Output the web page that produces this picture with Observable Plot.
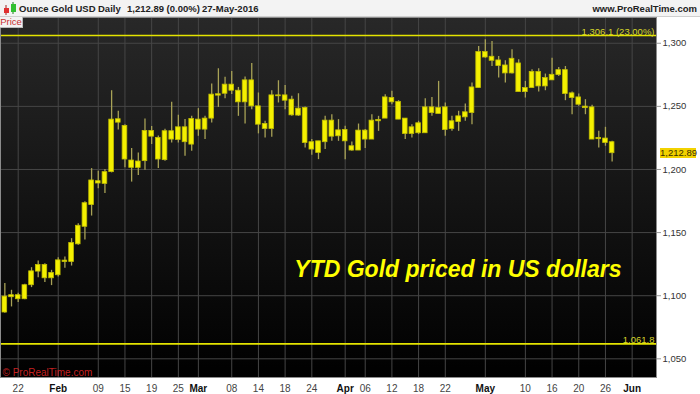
<!DOCTYPE html>
<html><head><meta charset="utf-8">
<script src="https://cdn.jsdelivr.net/npm/d3@7"></script>
<script src="https://cdn.jsdelivr.net/npm/@observablehq/plot@0.6"></script>
<style>
body{margin:0;background:#fff;font-family:"Liberation Sans",Arial,sans-serif;}
#wrap{position:relative;width:700px;height:394px;overflow:hidden;background:#fff;}
#hdr{position:absolute;left:0;top:0;width:700px;height:17px;background:#f3f3f3;border-bottom:1px solid #cfcfcf;box-sizing:border-box;font-weight:bold;font-size:9.5px;color:#222;}
#hdr span{position:absolute;top:3px;white-space:nowrap;}
#chart{position:absolute;left:0;top:17px;}
#pricebox{position:absolute;left:0;top:17px;width:22px;height:10px;background:#f2f2f2;border-right:1px solid #bbb;border-bottom:1px solid #bbb;color:#c83030;font-size:9.5px;line-height:10px;text-align:center;}
#tag{position:absolute;left:660px;width:36px;height:10px;background:#f2d200;color:#3a3000;font-size:9.5px;line-height:10px;text-align:center;}
</style></head>
<body>
<div id="wrap">
  <div id="hdr">
    <svg style="position:absolute;left:2px;top:2px" width="15" height="13">
      <line x1="4" y1="3" x2="4" y2="13" stroke="#a02020"/><rect x="2" y="6" width="5" height="5" fill="#e03030"/>
      <line x1="11" y1="0" x2="11" y2="12" stroke="#208020"/><rect x="9" y="2" width="5" height="8" fill="#30c030"/>
    </svg>
    <span style="left:19px">Ounce Gold USD</span>
    <span style="left:98px">Daily</span>
    <span style="left:127px">1,212.89 (0.00%)</span>
    <span style="left:202px">27-May-2016</span>
    <span style="right:3px">www.ProRealTime.com</span>
  </div>
  <div id="chart"></div>
  <div id="pricebox">Price</div>
  <div id="tag">1,212.89</div>
</div>
<script>
// ---- data ----
const dates = [
"2016-01-20","2016-01-21","2016-01-22","2016-01-25","2016-01-26","2016-01-27","2016-01-28","2016-01-29",
"2016-02-01","2016-02-02","2016-02-03","2016-02-04","2016-02-05","2016-02-08","2016-02-09","2016-02-10","2016-02-11","2016-02-12",
"2016-02-15","2016-02-16","2016-02-17","2016-02-18","2016-02-19","2016-02-22","2016-02-23","2016-02-24","2016-02-25","2016-02-26","2016-02-29",
"2016-03-01","2016-03-02","2016-03-03","2016-03-04","2016-03-07","2016-03-08","2016-03-09","2016-03-10","2016-03-11",
"2016-03-14","2016-03-15","2016-03-16","2016-03-17","2016-03-18","2016-03-21","2016-03-22","2016-03-23","2016-03-24",
"2016-03-28","2016-03-29","2016-03-30","2016-03-31",
"2016-04-01","2016-04-04","2016-04-05","2016-04-06","2016-04-07","2016-04-08","2016-04-11","2016-04-12","2016-04-13","2016-04-14","2016-04-15",
"2016-04-18","2016-04-19","2016-04-20","2016-04-21","2016-04-22","2016-04-25","2016-04-26","2016-04-27","2016-04-28","2016-04-29",
"2016-05-02","2016-05-03","2016-05-04","2016-05-05","2016-05-06","2016-05-09","2016-05-10","2016-05-11","2016-05-12","2016-05-13",
"2016-05-16","2016-05-17","2016-05-18","2016-05-19","2016-05-20","2016-05-23","2016-05-24","2016-05-25","2016-05-26","2016-05-27"];
const futureDays = ["2016-05-30","2016-05-31","2016-06-01","2016-06-02","2016-06-03","2016-06-06"];

const opens = [
1086.7,1100.4,1100.4,1097.2,1108.3,1119.1,1124.3,1113.8,1116.2,1127.8,
1126.7,1140.7,1154.6,1171.8,1190.7,1188.6,1197.9,1239.8,1234.5,1207.1,
1201.3,1206.6,1230.5,1225.0,1207.4,1230.3,1223.4,1233.4,1219.7,1239.5,
1231.6,1240.3,1259.6,1260.0,1267.2,1262.4,1253.2,1270.6,1250.0,1236.1,
1232.1,1258.0,1258.7,1255.3,1242.7,1248.7,1221.6,1213.1,1221.6,1238.7,
1226.3,1231.3,1218.4,1215.0,1230.8,1223.7,1239.2,1240.3,1253.2,1253.4,
1240.3,1228.1,1228.7,1228.7,1249.2,1244.0,1249.2,1232.1,1237.6,1241.3,
1244.7,1264.5,1288.7,1289.3,1286.4,1282.4,1276.1,1284.0,1261.3,1264.5,
1277.2,1265.8,1270.6,1274.8,1278.7,1260.3,1257.1,1249.8,1249.2,1225.0,
1224.5,1221.6];
const highs = [
1109.6,1104.3,1101.9,1109.0,1122.2,1127.5,1125.4,1120.1,1130.1,1130.7,
1145.2,1157.0,1174.4,1200.7,1198.6,1200.0,1262.4,1246.1,1235.5,1216.6,
1213.1,1240.0,1234.0,1226.6,1231.9,1253.2,1242.9,1239.5,1242.1,1248.2,
1242.1,1267.7,1279.8,1273.0,1277.7,1265.0,1273.2,1284.0,1260.6,1238.2,
1262.4,1270.3,1266.6,1258.0,1260.0,1249.5,1223.7,1222.3,1242.1,1243.4,
1239.5,1234.2,1221.8,1236.0,1231.6,1243.4,1242.1,1259.2,1261.9,1254.5,
1240.3,1235.5,1238.2,1256.1,1257.1,1269.8,1252.7,1242.1,1246.1,1251.9,
1268.5,1297.4,1302.7,1301.4,1289.5,1286.1,1294.8,1286.9,1269.8,1279.0,
1279.8,1275.6,1288.2,1280.8,1281.6,1261.3,1259.8,1255.3,1250.8,1230.2,
1233.4,1222.3];
const lows = [
1086.1,1091.1,1094.6,1096.7,1106.4,1114.3,1110.4,1108.0,1114.8,1121.7,
1123.5,1139.9,1144.1,1163.1,1184.7,1181.0,1197.3,1231.3,1201.3,1190.0,
1195.2,1199.4,1219.7,1200.8,1206.6,1221.0,1221.0,1210.5,1214.5,1226.3,
1223.7,1236.9,1249.2,1256.1,1259.3,1242.1,1236.1,1247.4,1228.2,1225.0,
1225.5,1252.7,1247.4,1242.1,1242.1,1217.0,1211.3,1207.8,1215.8,1222.3,
1222.3,1207.8,1214.4,1215.0,1216.6,1223.7,1230.2,1240.3,1251.3,1239.5,
1223.7,1225.0,1227.6,1228.7,1242.1,1244.0,1226.3,1230.2,1230.2,1238.2,
1235.5,1264.5,1288.2,1281.6,1272.4,1268.5,1275.6,1261.3,1256.6,1264.5,
1261.3,1262.4,1270.6,1273.7,1254.5,1243.4,1250.0,1243.4,1223.7,1217.1,
1218.4,1206.0];
const closes = [
1099.3,1098.8,1097.2,1108.3,1119.3,1124.3,1113.8,1118.0,1128.0,1126.7,
1141.7,1155.4,1173.3,1191.3,1188.9,1197.9,1239.5,1237.1,1207.9,1201.3,
1206.3,1230.5,1226.0,1207.9,1230.3,1223.7,1233.4,1221.6,1240.0,1231.6,
1240.3,1259.3,1258.5,1267.2,1262.4,1253.2,1270.6,1250.0,1235.5,1232.1,
1258.7,1258.7,1254.5,1242.9,1248.2,1221.0,1215.8,1222.3,1238.7,1226.0,
1231.0,1222.3,1215.0,1230.8,1223.7,1238.7,1238.2,1257.1,1256.6,1239.5,
1228.1,1233.4,1236.6,1249.2,1244.7,1248.7,1231.3,1238.2,1242.1,1245.3,
1265.0,1293.0,1293.0,1286.1,1281.9,1276.1,1287.7,1261.3,1264.5,1277.2,
1265.8,1272.4,1275.0,1278.7,1259.8,1256.6,1251.3,1248.6,1223.7,1224.0,
1221.0,1212.89];

const dayTicks  = ["2016-01-22","2016-02-09","2016-02-15","2016-02-19","2016-02-25","2016-03-08","2016-03-14","2016-03-18","2016-03-24",
                   "2016-04-06","2016-04-12","2016-04-18","2016-04-22","2016-05-10","2016-05-16","2016-05-20","2016-05-26"];
const dayLabels = ["22","09","15","19","25","08","14","18","24","06","12","18","22","10","16","20","26"];
const monthTicks  = ["2016-02-01","2016-03-01","2016-04-01","2016-05-02","2016-06-01"];
const monthLabels = ["Feb","Mar","Apr","May","Jun"];
const yTicks = [1050,1100,1150,1200,1250,1300];
const levels = [1306.1, 1061.8];
const levelLabels = ["1,306.1 (23.00%)","1,061.8"];
const lastPrice = 1212.89;
const yDomain = [1035.2, 1320.4];
const annotation = "YTD Gold priced in US dollars";
const watermark = "\u00a9 ProRealTime.com";

// ---- build ----
const candles = dates.map((d,i)=>({date:d, open:opens[i], high:highs[i], low:lows[i], close:closes[i]}));
const axisDays = dates.concat(futureDays);
const dayMap = new Map(dayTicks.map((d,i)=>[d,dayLabels[i]]));
const monMap = new Map(monthTicks.map((d,i)=>[d,monthLabels[i]]));
const font = "Liberation Sans, Arial, sans-serif";

const plot = Plot.plot({
  width:700, height:377, marginTop:0, marginBottom:17, marginLeft:0, marginRight:44,
  style:{background:"#fff", fontFamily:font, color:"#333", overflow:"visible"},
  x:{type:"band", domain:axisDays, padding:0.3, axis:null, label:null},
  y:{domain:yDomain, axis:null, label:null},
  marks:[
    Plot.frame({fill:"url(#bgGrad)"}),
    Plot.gridY(yTicks, {stroke:"#464646", strokeOpacity:1}),
    Plot.gridX(dayTicks.concat(monthTicks), {stroke:"#464646", strokeOpacity:1}),
    Plot.ruleY(levels, {stroke:"#e4e400", strokeWidth:1.6}),
    Plot.text(levels, {y:d=>d, text:(d,i)=>levelLabels[i], frameAnchor:"right", textAnchor:"end", lineAnchor:"bottom", dx:-2, dy:-1, fill:"#d6d62c", fontSize:9.5}),
    Plot.ruleX(candles, {x:"date", y1:"low", y2:"high", stroke:"#a8a256", strokeWidth:1.3}),
    Plot.barY(candles, {x:"date", y1:"open", y2:"close", fill:"#f4f000", stroke:"#c2be00", strokeWidth:0.8}),
    Plot.axisX(dayTicks, {label:null, tickFormat:d=>dayMap.get(d), tickSize:0, tickPadding:7, fontSize:10, fill:"#444"}),
    Plot.axisX(monthTicks, {label:null, tickFormat:d=>monMap.get(d), tickSize:0, tickPadding:7, fontSize:10, fontWeight:"bold", fill:"#111"}),
    Plot.axisY(yTicks, {label:null, anchor:"right", tickFormat:d3.format(","), tickSize:4, tickPadding:2, fontSize:9.5, fill:"#333", stroke:"#999"}),
    Plot.text([watermark], {text:d=>d, frameAnchor:"bottom-left", textAnchor:"start", lineAnchor:"bottom", dx:2, dy:-2, fill:"#c42020", fontSize:10}),
    Plot.text([annotation], {text:d=>d, frameAnchor:"right", textAnchor:"end", dx:-35, dy:72, fill:"#ffff00", fontSize:23, fontWeight:"bold", fontStyle:"italic"}),
    Plot.frame({stroke:"#8c8c8c"})
  ]
});
const ns = "http://www.w3.org/2000/svg";
const defs = document.createElementNS(ns,"defs");
defs.innerHTML = '<linearGradient id="bgGrad" x1="0" y1="0" x2="0" y2="1"><stop offset="0" stop-color="#282828"/><stop offset="1" stop-color="#000"/></linearGradient>';
plot.insertBefore(defs, plot.firstChild);
document.getElementById("chart").appendChild(plot);
const ty = plot.scale("y").apply(lastPrice);
document.getElementById("tag").style.top = (17 + ty - 5) + "px";
</script>
</body></html>
